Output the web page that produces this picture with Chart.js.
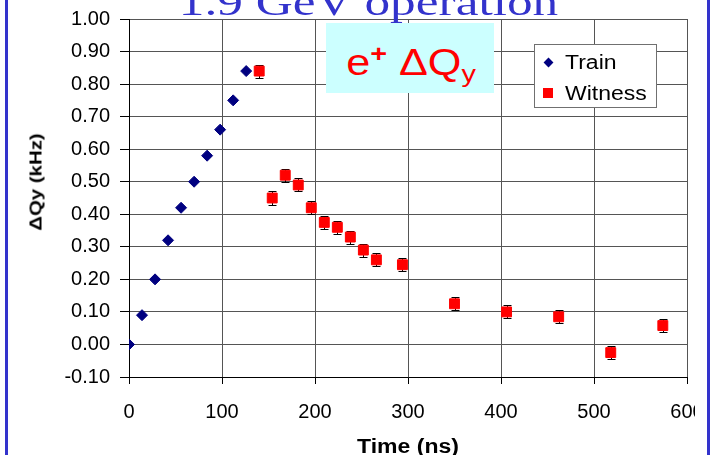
<!DOCTYPE html>
<html>
<head>
<meta charset="utf-8">
<script src="https://cdn.jsdelivr.net/npm/chart.js@4/dist/chart.umd.min.js"></script>
<style>
  html, body { margin:0; padding:0; background:#fff; overflow:hidden; }
  #wrap { position:relative; width:710px; height:455px; overflow:hidden; background:#fff; }
  #c { position:absolute; left:0; top:0; }
  .ov { position:absolute; white-space:nowrap; }
  #title { left:0; width:737px; top:-17px; text-align:center; font-family:"Liberation Serif", serif; font-size:38px; line-height:38px; color:#3333cc; transform:scaleX(1.35); transform-origin:368.5px 0; }
  #bl { left:5px; top:0; width:3px; height:455px; background:#3333cc; }
  #br { left:707px; top:0; width:3px; height:455px; background:#3333cc; }
  #anno { left:326px; top:23px; width:168px; height:70px; background:#ccffff; }
  #annoText { left:410.5px; top:44.5px; font-family:"Liberation Sans", Arial, sans-serif; color:#ff0000; font-size:36px; line-height:36px; transform:translateX(-50%) scaleX(1.2); transform-origin:50% 0; }
  #annoText .sp { position:relative; top:-13px; font-weight:bold; font-size:24px; }
  #annoText .sb { position:relative; top:7px; font-size:24px; }
  #legend { left:534px; top:44px; width:121px; height:62px; background:#fff; border:1px solid #707070; }
  .lt { font-family:"Liberation Sans", Arial, sans-serif; font-size:20px; line-height:20px; color:#000; transform:scaleX(1.15); transform-origin:0 0; }
  #ytitle { left:36px; top:182px; font-family:"Liberation Sans", Arial, sans-serif; font-weight:bold; font-size:17px; line-height:17px; transform:translate(-50%,-50%) rotate(-90deg) scaleX(1.2); }
  #xtitle { left:408px; top:446px; font-family:"Liberation Sans", Arial, sans-serif; font-weight:bold; font-size:20px; line-height:20px; transform:translate(-50%,-50%) scaleX(1.15); }
  #clip { left:695px; top:395px; width:12px; height:35px; background:#fff; }
</style>
</head>
<body>
<div id="wrap">
  <canvas id="c" width="710" height="455"></canvas>
  <div id="anno" class="ov"></div>
  <div id="annoText" class="ov">e<span class="sp">+</span> ΔQ<span class="sb">y</span></div>
  <div id="legend" class="ov"></div>
  <div id="lgTrainMark" class="ov" style="left:544.5px;top:58.5px;width:7px;height:7px;background:#000080;transform:rotate(45deg);"></div>
  <div id="lgTrain" class="ov lt" style="left:565px;top:52px;">Train</div>
  <div id="lgWitMark" class="ov" style="left:543px;top:88px;width:10px;height:10px;background:#ff0000;"></div>
  <div id="lgWit" class="ov lt" style="left:565px;top:83px;">Witness</div>
  <div id="ytitle" class="ov">ΔQy (kHz)</div>
  <div id="xtitle" class="ov">Time (ns)</div>
  <div id="clip" class="ov"></div>
  <div id="title" class="ov">1.9 GeV operation</div>
  <div id="bl" class="ov"></div>
  <div id="br" class="ov"></div>
</div>
<script>
// ---- data ----
const trainTime    = [0, 14, 28, 42, 56, 70, 84, 98, 112, 126];
const trainDQy     = [0.00, 0.09, 0.20, 0.32, 0.42, 0.50, 0.58, 0.66, 0.75, 0.84];
const witnessTime  = [140, 154, 168, 182, 196, 210, 224, 238, 252, 266, 294, 350, 406, 462, 518, 574];
const witnessDQy   = [0.84, 0.45, 0.52, 0.49, 0.42, 0.375, 0.36, 0.33, 0.29, 0.26, 0.245, 0.125, 0.10, 0.085, -0.025, 0.058];
const witnessErr   = [0.02, 0.02, 0.02, 0.02, 0.02, 0.02, 0.02, 0.02, 0.02, 0.02, 0.02, 0.02, 0.02, 0.02, 0.02, 0.02];
const xTickValues  = [0, 100, 200, 300, 400, 500, 600];
const yTickValues  = [-0.10, 0.00, 0.10, 0.20, 0.30, 0.40, 0.50, 0.60, 0.70, 0.80, 0.90, 1.00];
const seriesNames  = ['Train', 'Witness'];

const toPts = (xs, ys) => xs.map((x, i) => ({x: x, y: ys[i]}));

const errorBarPlugin = {
  id: 'errorBars',
  beforeDatasetsDraw(chart) {
    const ctx = chart.ctx;
    const xs = chart.scales.x, ys = chart.scales.y;
    ctx.save();
    ctx.strokeStyle = '#000';
    ctx.lineWidth = 1;
    witnessTime.forEach((t, i) => {
      const px = Math.round(xs.getPixelForValue(t)) + 0.5;
      const top = Math.round(ys.getPixelForValue(witnessDQy[i] + witnessErr[i])) + 0.5;
      const bot = Math.round(ys.getPixelForValue(witnessDQy[i] - witnessErr[i])) + 0.5;
      ctx.beginPath();
      ctx.moveTo(px, top); ctx.lineTo(px, bot);
      ctx.moveTo(px - 4, top); ctx.lineTo(px + 4, top);
      ctx.moveTo(px - 4, bot); ctx.lineTo(px + 4, bot);
      ctx.stroke();
    });
    ctx.restore();
  }
};

const tickFont = {family: '"Liberation Sans", Arial, sans-serif', size: 20};

new Chart(document.getElementById('c'), {
  type: 'scatter',
  data: {
    datasets: [
      {
        label: seriesNames[0],
        data: toPts(trainTime, trainDQy),
        pointStyle: 'rectRot',
        pointRadius: 5.5,
        pointHoverRadius: 5.5,
        backgroundColor: '#000080',
        borderColor: '#000080',
        borderWidth: 1
      },
      {
        label: seriesNames[1],
        data: toPts(witnessTime, witnessDQy),
        pointStyle: 'rect',
        pointRadius: 7,
        pointHoverRadius: 7,
        backgroundColor: '#ff0000',
        borderColor: '#ff0000',
        borderWidth: 1
      }
    ]
  },
  options: {
    responsive: false,
    animation: false,
    events: [],
    layout: { padding: { left: 0, right: 23, top: 19, bottom: 0 } },
    plugins: { legend: { display: false }, title: { display: false }, tooltip: { enabled: false } },
    scales: {
      x: {
        type: 'linear',
        min: xTickValues[0],
        max: xTickValues[xTickValues.length - 1],
        afterBuildTicks: s => { s.ticks = xTickValues.map(v => ({value: v})); },
        afterFit: s => { s.height = 78; s.paddingLeft = 0; s.paddingRight = 0; },
        ticks: { font: tickFont, color: '#000', padding: 16, maxRotation: 0, callback: v => String(v) },
        grid: { color: '#555', lineWidth: 1, tickColor: '#000', tickLength: 7 },
        border: { display: true, color: '#000', width: 1 }
      },
      y: {
        type: 'linear',
        min: yTickValues[0],
        max: yTickValues[yTickValues.length - 1],
        afterBuildTicks: s => { s.ticks = yTickValues.map(v => ({value: v})); },
        afterFit: s => { s.width = 129; s.paddingTop = 0; s.paddingBottom = 0; },
        ticks: { font: tickFont, color: '#000', padding: 10, callback: v => (Math.abs(v) < 1e-9 ? 0 : v).toFixed(2) },
        grid: { color: '#555', lineWidth: 1, tickColor: '#000', tickLength: 9 },
        border: { display: true, color: '#000', width: 1 }
      }
    }
  },
  plugins: [errorBarPlugin]
});
</script>
</body>
</html>
